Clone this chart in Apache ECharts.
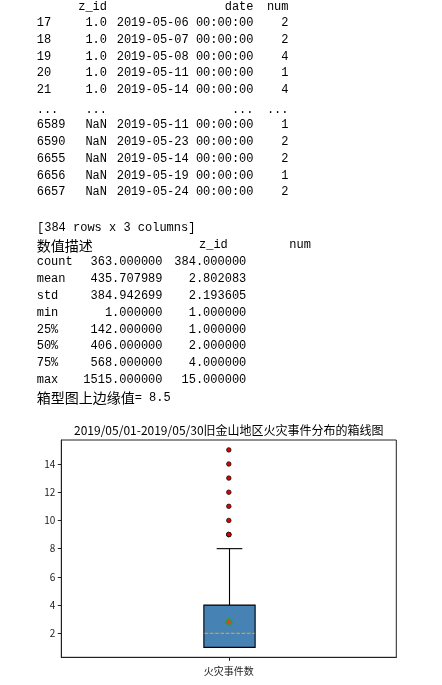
<!DOCTYPE html>
<html>
<head>
<meta charset="utf-8">
<script src="https://cdn.jsdelivr.net/npm/echarts@6/dist/echarts.min.js"></script>
<style>
html,body{margin:0;padding:0;background:#fff;}
#chart{width:442px;height:685px;}
</style>
</head>
<body>
<div id="chart"></div>
<script>
// ---------- data ----------
const tableHeader = ['z_id', 'date', 'num'];
const tableIndex = ['17', '18', '19', '20', '21', '...', '6589', '6590', '6655', '6656', '6657'];
const tableZid = ['1.0', '1.0', '1.0', '1.0', '1.0', '...', 'NaN', 'NaN', 'NaN', 'NaN', 'NaN'];
const tableDate = ['2019-05-06 00:00:00', '2019-05-07 00:00:00', '2019-05-08 00:00:00', '2019-05-11 00:00:00',
  '2019-05-14 00:00:00', '...', '2019-05-11 00:00:00', '2019-05-23 00:00:00', '2019-05-14 00:00:00',
  '2019-05-19 00:00:00', '2019-05-24 00:00:00'];
const tableNum = ['2', '2', '4', '1', '4', '...', '1', '2', '2', '1', '2'];
const shapeText = '[384 rows x 3 columns]';
const descTitle = '数值描述';
const descHeader = ['z_id', 'num'];
const descLabels = ['count', 'mean', 'std', 'min', '25%', '50%', '75%', 'max'];
const descCol1 = ['363.000000', '435.707989', '384.942699', '1.000000', '142.000000', '406.000000', '568.000000', '1515.000000'];
const descCol2 = ['384.000000', '2.802083', '2.193605', '1.000000', '1.000000', '2.000000', '4.000000', '15.000000'];
const upperEdgeLabel = '箱型图上边缘值';
const upperEdgeValue = '= 8.5';

const chartTitle = '2019/05/01-2019/05/30旧金山地区火灾事件分布的箱线图';
const categories = ['火灾事件数'];
// [lower whisker, Q1, median, Q3, upper whisker]
const boxStats = [[1, 1, 2, 4, 8]];
const meanValues = [2.802083];
const outliers = [9, 9, 9, 10, 11, 12, 13, 14, 15];
const yTicks = [2, 4, 6, 8, 10, 12, 14];

// ---------- text layout ----------
const MONO = '12px "Liberation Mono", monospace';
const CJK = '14px "Noto Sans CJK SC"';
const graphics = [];
function txt(text, x, y, align, font) {
  graphics.push({type: 'text', x: x, y: y, silent: true,
    style: {text: text, font: font || MONO, fill: '#000', align: align, verticalAlign: 'middle'}});
}
const colX = {idx: 36.7, zid: 107, date: 253.5, num: 288.5};
txt(tableHeader[0], colX.zid, 7, 'right');
txt(tableHeader[1], colX.date, 7, 'right');
txt(tableHeader[2], colX.num, 7, 'right');
tableIndex.forEach((v, i) => {
  const y = (i < 5 ? 23.3 : (i === 5 ? 26.3 : 25.3)) + i * 16.67;
  txt(v, colX.idx, y, 'left');
  txt(tableZid[i], colX.zid, y, 'right');
  txt(tableDate[i], colX.date, y, 'right');
  txt(tableNum[i], colX.num, y, 'right');
});
txt(shapeText, 37, 227.5, 'left');
txt(descTitle, 36.7, 245.3, 'left', CJK);
txt(descHeader[0], 199, 245.3, 'left');
txt(descHeader[1], 289.3, 245.3, 'left');
descLabels.forEach((v, i) => {
  const y = 262.3 + i * 16.8;
  txt(v, 36.7, y, 'left');
  txt(descCol1[i], 162.5, y, 'right');
  txt(descCol2[i], 246.3, y, 'right');
});
graphics.push({type: 'text', x: 36.7, y: 397.5, silent: true,
  style: {text: '{c|' + upperEdgeLabel + '}{a|' + upperEdgeValue + '}', verticalAlign: 'middle', align: 'left',
    rich: {c: {font: CJK, fill: '#000'}, a: {font: MONO, fill: '#000'}}}});
graphics.push({type: 'text', x: 228.8, y: 430.7, silent: true,
  style: {text: chartTitle, font: '12px "Noto Sans CJK SC"', fill: '#000', align: 'center', verticalAlign: 'middle'}});

// ---------- chart ----------
const chart = echarts.init(document.getElementById('chart'), null, {renderer: 'canvas'});
const boxData = boxStats.map((s, i) => [i].concat(s));
const meanData = meanValues.map((m, i) => [i, m]);
const outlierData = outliers.map(v => [0, v]);

chart.setOption({
  animation: false,
  graphic: graphics,
  grid: {left: 61.3, right: 45.7, top: 440, bottom: 27.7, show: true, borderColor: '#222', borderWidth: 1, containLabel: false},
  xAxis: {
    type: 'category', data: categories, boundaryGap: true,
    axisLine: {show: true, lineStyle: {color: '#222', width: 1}},
    axisTick: {show: true, alignWithLabel: true, length: 3.5, lineStyle: {color: '#222'}},
    axisLabel: {fontSize: 10, color: '#222', margin: 8.5, fontFamily: 'Noto Sans CJK SC'},
    splitLine: {show: false}
  },
  yAxis: {
    type: 'value', min: 0.3, max: 15.7,
    axisLine: {show: true, lineStyle: {color: '#222', width: 1}},
    axisTick: {show: true, length: 3.5, customValues: yTicks, lineStyle: {color: '#222'}},
    axisLabel: {fontSize: 10, color: '#222', margin: 6, customValues: yTicks, fontFamily: 'Noto Sans CJK SC'},
    splitLine: {show: false}
  },
  series: [
    {
      type: 'custom',
      data: boxData,
      encode: {x: 0, y: [1, 2, 3, 4, 5]},
      z: 2,
      renderItem: function (params, api) {
        const xi = api.value(0);
        const lo = api.coord([xi, api.value(1)]);
        const q1 = api.coord([xi, api.value(2)]);
        const med = api.coord([xi, api.value(3)]);
        const q3 = api.coord([xi, api.value(4)]);
        const hi = api.coord([xi, api.value(5)]);
        const band = api.size([1, 0])[0];
        const bw = band * 0.153;
        const cw = bw / 2;
        const cx = Math.round(lo[0]) + 0.5;
        const ln = {stroke: '#000', lineWidth: 1.1};
        return {type: 'group', children: [
          {type: 'line', shape: {x1: cx, y1: q3[1], x2: cx, y2: hi[1]}, style: ln},
          {type: 'line', shape: {x1: cx - cw / 2, y1: hi[1], x2: cx + cw / 2, y2: hi[1]}, style: ln},
          {type: 'line', shape: {x1: cx, y1: q1[1], x2: cx, y2: lo[1]}, style: ln},
          {type: 'line', shape: {x1: cx - cw / 2, y1: lo[1], x2: cx + cw / 2, y2: lo[1]}, style: ln},
          {type: 'rect', shape: {x: cx - bw / 2, y: q3[1], width: bw, height: q1[1] - q3[1]},
            style: {fill: '#4682b4', stroke: '#000', lineWidth: 1.1}},
          {type: 'line', shape: {x1: cx - bw / 2 + 0.6, y1: med[1], x2: cx + bw / 2 - 0.6, y2: med[1]},
            style: {stroke: '#ffa500', lineWidth: 1, lineDash: [3.7, 1.6]}}
        ]};
      }
    },
    {
      type: 'scatter', data: outlierData, symbol: 'circle', symbolSize: 4.5, z: 3,
      itemStyle: {color: '#e00000', borderColor: '#111', borderWidth: 0.8, opacity: 1}
    },
    {
      type: 'scatter', data: meanData, symbol: 'diamond', symbolSize: [7, 7], z: 4,
      itemStyle: {color: '#e0403a', borderColor: '#2ca02c', borderWidth: 1.2, opacity: 1}
    }
  ]
});
</script>
</body>
</html>
